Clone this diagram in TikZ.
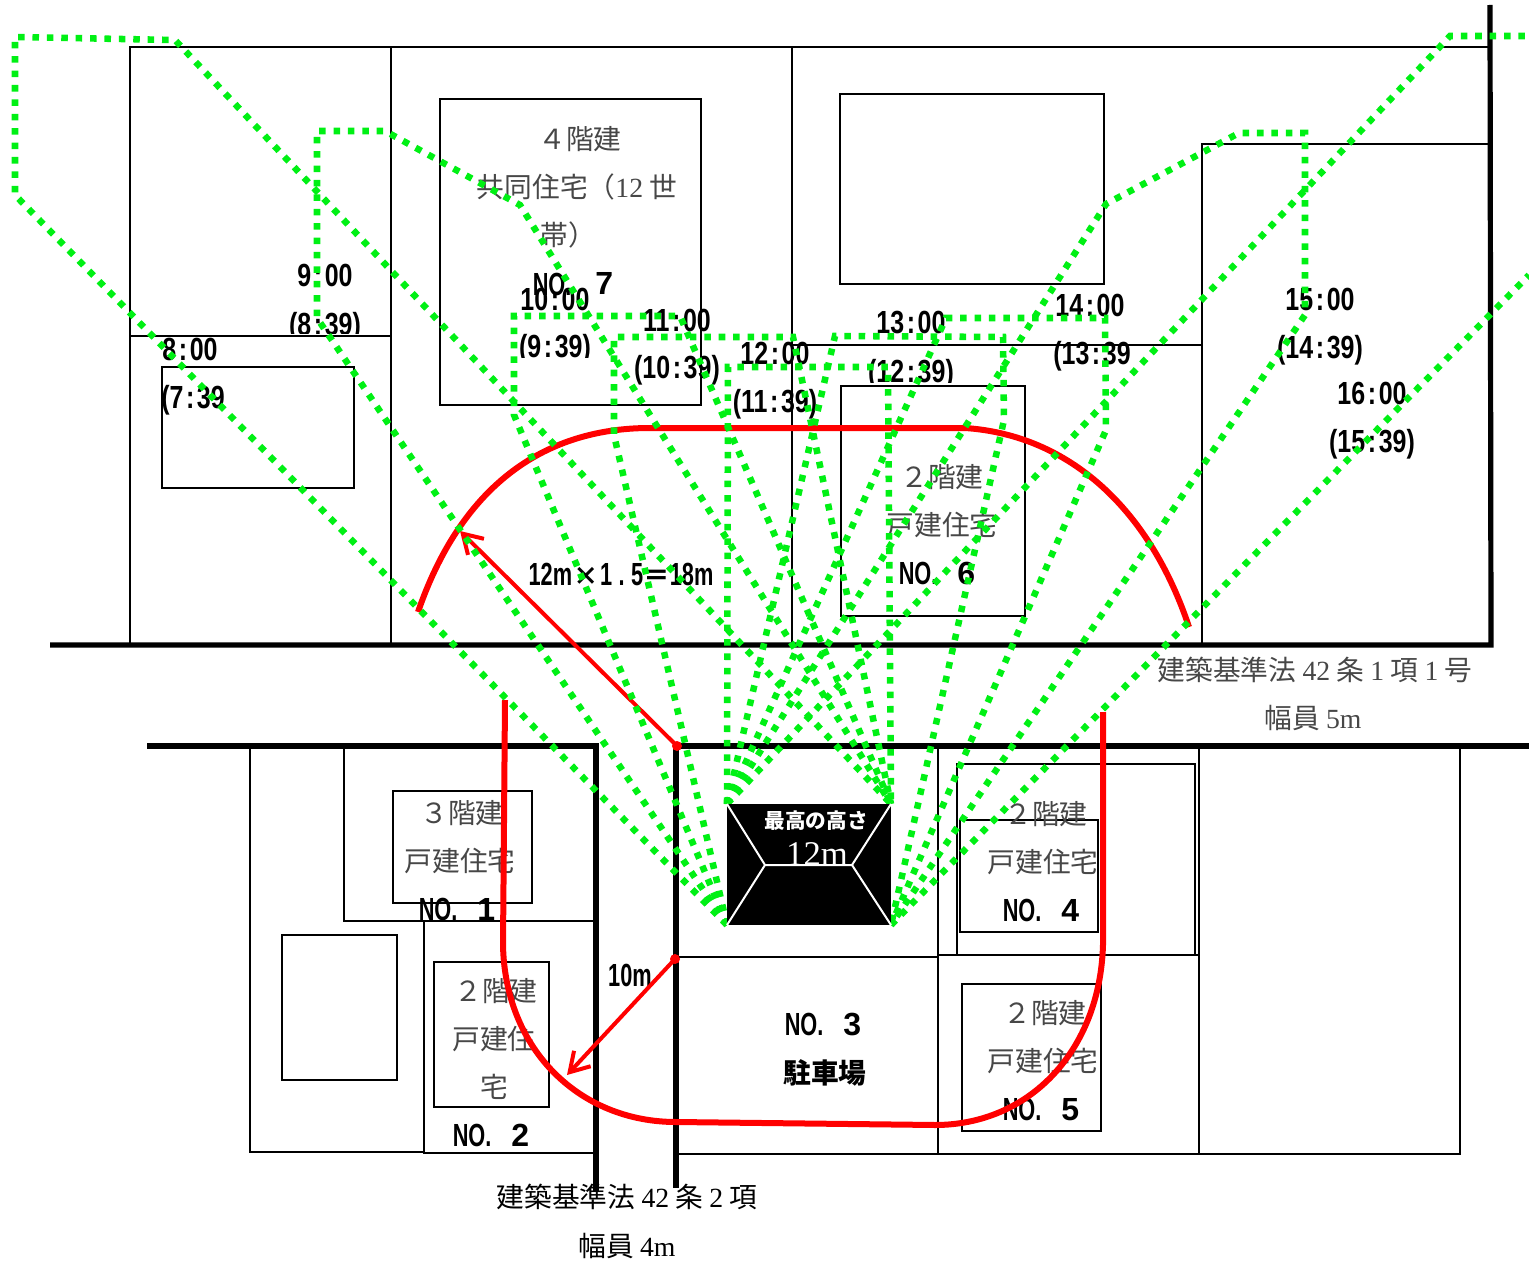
\documentclass[tikz,border=0pt]{standalone}
\usepackage{graphicx}
\usepackage{fontspec}
\usetikzlibrary{arrows.meta}
\setmainfont{Liberation Serif}
\newfontfamily\jp{Noto Sans CJK JP}
\newfontfamily\gtf{Liberation Sans}
\definecolor{shadowgreen}{RGB}{0,240,20}
\definecolor{roofred}{RGB}{255,0,0}
\newcommand{\gothic}[1]{\scalebox{.78}[1]{\gtf\bfseries #1}}
\newcommand{\narrow}[1]{\scalebox{.68}[1]{\gtf\bfseries #1}}
\newcommand{\hm}[2]{\gothic{#1\kern2.5pt:\kern2.5pt#2}}
\newcommand{\hmp}[2]{\gothic{(#1\kern2.5pt:\kern2.5pt#2)}}
\newcommand{\nolab}[1]{\narrow{NO.}\hspace{15pt}{\gtf\bfseries #1}}
\tikzset{
  thin line/.style={draw=black,line width=1.2pt},
  road/.style={draw=black,line width=3.9pt},
  redline/.style={draw=roofred,line width=4.5pt},
  redarrow/.style={draw=roofred,line width=3pt,-{Straight Barb[length=14pt,width=17pt,line width=3pt]}},
  reddot/.style={circle,fill=roofred,minimum size=7.5pt,inner sep=0pt},
  green shadow/.style={draw=shadowgreen,line width=4.9pt,dash pattern=on 4.9pt off 5.9pt},
  txt/.style={inner sep=0pt,anchor=center,font=\fontsize{20.8}{20.8}\selectfont\jp,text=black!72},
  blk/.style={inner sep=0pt,anchor=center,font=\fontsize{20.8}{20.8}\selectfont\jp,text=black},
  tm/.style={inner sep=0pt,anchor=center,font=\fontsize{24}{24}\selectfont,text=black},
}
\begin{document}
\begin{tikzpicture}[x=0.75pt,y=-0.75pt]
\useasboundingbox (0,0) rectangle (1529,1263);
% thin parcels
\draw[thin line] (130,643)--(130,47)--(1490,47);
\draw[thin line] (391,47)--(391,643);
\draw[thin line] (792,47)--(792,643);
\draw[thin line] (130,336)--(391,336);
\draw[thin line] (440,99) rectangle (701,405);
\draw[thin line] (840,94) rectangle (1104,284);
\draw[thin line] (1490,144)--(1202,144)--(1202,643);
\draw[thin line] (792,345)--(1202,345);
\draw[thin line] (841,386) rectangle (1025,616);
\draw[thin line] (162,367) rectangle (354,488);
\draw[thin line] (250,746)--(250,1152)--(424,1152);
\draw[thin line] (344,746)--(344,921)--(596,921);
\draw[thin line] (424,921)--(424,1153)--(596,1153);
\draw[thin line] (282,935) rectangle (397,1080);
\draw[thin line] (393,791) rectangle (532,903);
\draw[thin line] (434,962) rectangle (549,1107);
\draw[thin line] (938,746)--(938,1154);
\draw[thin line] (676,957)--(938,957);
\draw[thin line] (676,1154)--(1460,1154)--(1460,746);
\draw[thin line] (1199,746)--(1199,1154);
\draw[thin line] (938,955)--(1199,955);
\draw[thin line] (957,955)--(957,764)--(1195,764)--(1195,955);
\draw[thin line] (960,820) rectangle (1098,932);
\draw[thin line] (962,984) rectangle (1101,1131);
% roads
\draw[road] (50,645)--(1491,645)--(1490,5);
\draw[road] (147,746)--(596,746)--(596,1192);
\draw[road] (1529,746)--(676,746)--(676,1188);
% texts
\node[txt] (f7a) at (580,139) {４階建};
\node[txt] (f7b) at (577,187) {共同住宅（{\rmfamily 12} 世};
\node[txt] (f7c) at (568,235) {帯）};
\node[tm] (n7) at (573,284) {\narrow{NO.}\hspace{18pt}\raisebox{1pt}{\gtf\bfseries 7}};
\node[tm] (h9) at (325,275) {\hm{9}{00}};
\begin{scope}\clip (270,300) rectangle (380,333);
\node[tm] (p9) at (325,327) {\hmp{8}{39}};
\end{scope}
\node[tm] (h8) at (190,349) {\hm{8}{00}};
\node[tm] (p8) at (193,400) {\gothic{(7\kern2.5pt:\kern2.5pt39}};
\node[tm] (h10) at (555,299) {\hm{10}{00}};
\begin{scope}\clip (500,325) rectangle (610,357);
\node[tm] (p10) at (555,349) {\hmp{9}{39}};
\end{scope}
\node[tm] (h11) at (677,320) {\hm{11}{00}};
\node[tm] (p11) at (677,370) {\hmp{10}{39}};
\node[tm] (h12) at (775,353) {\hm{12}{00}};
\node[tm] (p12) at (775,404) {\hmp{11}{39}};
\node[tm] (h13) at (911,323) {\hm{13}{00}};
\begin{scope}\clip (850,350) rectangle (970,382);
\node[tm] (p13) at (911,374) {\hmp{12}{39}};
\end{scope}
\node[tm] (h14) at (1090,305) {\hm{14}{00}};
\node[tm] (p14) at (1092,356) {\gothic{(13\kern2.5pt:\kern2.5pt39}};
\node[tm] (h15) at (1320,299) {\hm{15}{00}};
\node[tm] (p15) at (1320,350) {\hmp{14}{39}};
\node[tm] (h16) at (1372,393) {\hm{16}{00}};
\node[tm] (p16) at (1372,444) {\hmp{15}{39}};
\node[tm] (calc) at (621,574) {\narrow{12m}\kern1pt{\jp\bfseries\fontsize{19}{19}\selectfont ×}\kern1pt\narrow{1\kern7pt.\kern7pt5}{\jp\bfseries\fontsize{20}{20}\selectfont ＝}\narrow{18m}};
\node[txt] (f6a) at (942,477) {２階建};
\node[txt] (f6b) at (942,525) {戸建住宅};
\node[tm] (n6) at (937,573) {\nolab{6}};
\node[txt] (lawa) at (1315,670) {建築基準法 {\rmfamily 42} 条 {\rmfamily 1} 項 {\rmfamily 1} 号};
\node[txt] (lawb) at (1313,718) {幅員 {\rmfamily 5m}};
\node[txt] (f1a) at (462,813) {３階建};
\node[txt] (f1b) at (460,861) {戸建住宅};
\node[tm] (n1) at (457,909) {\nolab{1}};
\node[txt] (f2a) at (496,991) {２階建};
\node[txt] (f2b) at (494,1039) {戸建住};
\node[txt] (f2c) at (494,1087) {宅};
\node[tm] (n2) at (491,1135) {\nolab{2}};
\node[tm] (ten) at (630,975) {\narrow{10m}};
\node[txt] (f4a) at (1046,814) {２階建};
\node[txt] (f4b) at (1043,862) {戸建住宅};
\node[tm] (n4) at (1041,910) {\nolab{4}};
\node[txt] (f5a) at (1045,1013) {２階建};
\node[txt] (f5b) at (1043,1061) {戸建住宅};
\node[tm] (n5) at (1041,1109) {\nolab{5}};
\node[tm] (n3) at (823,1025) {\nolab{3}};
\node[blk] (park) at (825,1073) {\bfseries 駐車場};
\node[blk] (lawc) at (627,1197) {建築基準法 {\rmfamily 42} 条 {\rmfamily 2} 項};
\node[blk] (lawd) at (627,1246) {幅員 {\rmfamily 4m}};
% red envelope
\draw[redline] (418,612) .. controls (460,490) and (540,428) .. (650,428) -- (965,428) .. controls (1070,435) and (1150,510) .. (1189,627);
\draw[redline] (505,700) -- (503,945) .. controls (505,1050) and (580,1122) .. (676,1122) -- (935,1125) .. controls (1030,1125) and (1100,1050) .. (1103,945) -- (1103,712);
\coordinate (arrA) at (460,531);
\coordinate (arrB) at (567,1075);
\node[reddot] (dotA) at (677,746) {};
\node[reddot] (dotB) at (675,959) {};
\draw[redarrow] (dotA.center) -- (arrA);
\draw[redarrow] (dotB.center) -- (arrB);
% building corners
\coordinate (TL) at (727,804);
\coordinate (TR) at (891,804);
\coordinate (BL) at (727,925);
\coordinate (BR) at (891,925);
% shadows
\draw[green shadow] (BL)--(15,195)--(15,37)--(175,40)--(TR);
\draw[green shadow] (BL)--(317,318)--(317,131)--(385,131)--(520,205)--(TR);
\draw[green shadow] (BL)--(514,415)--(514,316)--(680,316)--(TR);
\draw[green shadow] (BL)--(614,435)--(614,337)--(793,337)--(TR);
\draw[green shadow] (TL)--(728,367)--(888,367)--(TR);
\draw[green shadow] (TL)--(835,336)--(1003,337)--(1004,420)--(BR);
\draw[green shadow] (TL)--(946,318)--(1105,318)--(1106,430)--(BR);
\draw[green shadow] (TL)--(1106,204)--(1239,133)--(1305,133)--(1305,315)--(BR);
\draw[green shadow] (TL)--(1450,36)--(1529,36);
\draw[green shadow] (BR)--(1529,275);
% building
\fill[black] (TL) rectangle (BR);
\coordinate (rL) at (765,865);
\coordinate (rR) at (852,865);
\draw[white,line width=1.5pt] (TL)--(rL)--(BL) (TR)--(rR)--(BR) (rL)--(rR);
\node[inner sep=0pt,text=white,font=\fontsize{15.5}{15.5}\selectfont\jp\bfseries] (top) at (816,821) {最高の高さ};
\node[inner sep=0pt,text=white,font=\fontsize{26}{26}\selectfont] (twelve) at (817,854) {12m};
\end{tikzpicture}
\end{document}
